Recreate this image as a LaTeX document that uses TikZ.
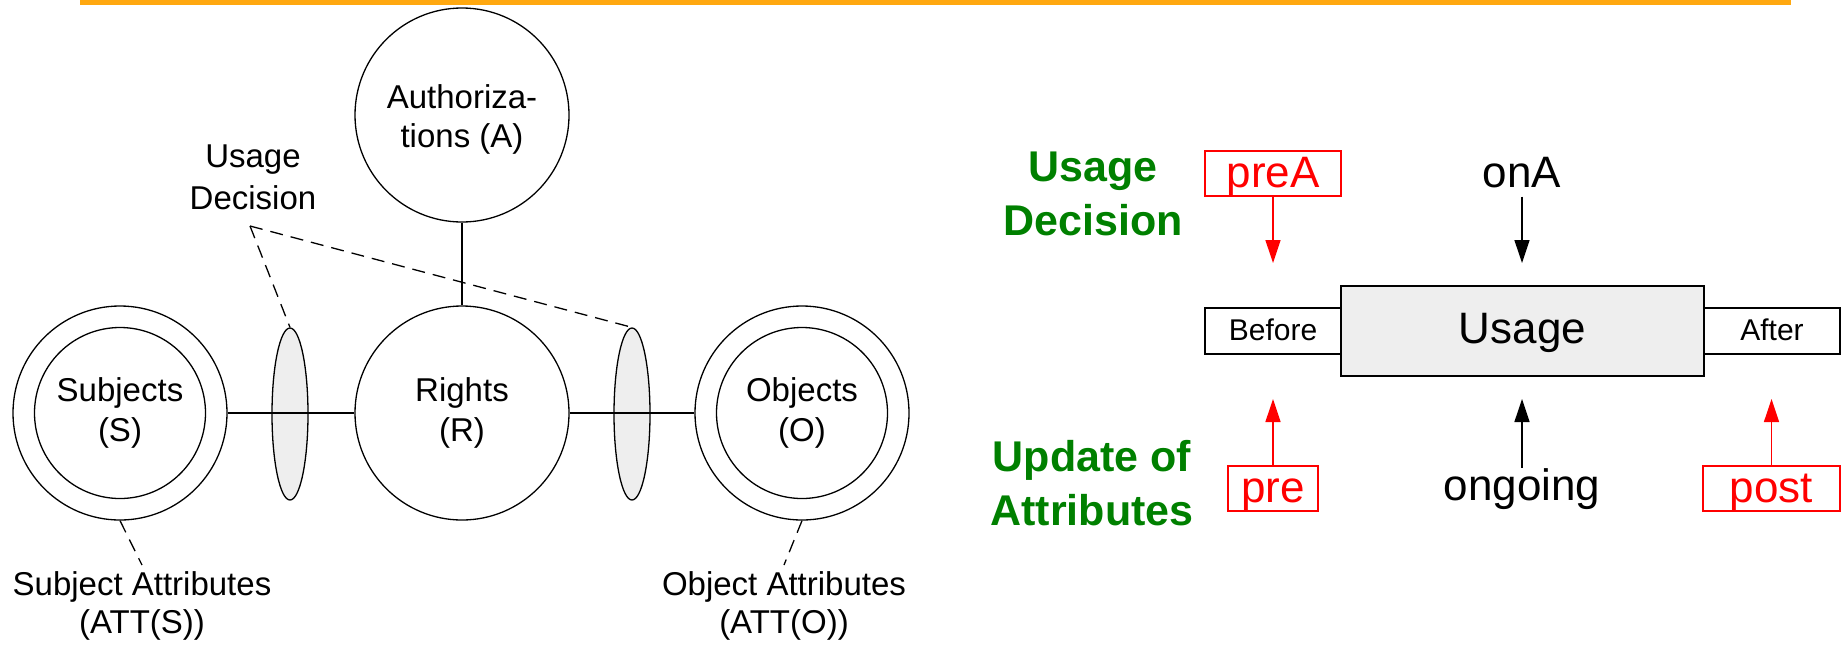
\documentclass[tikz,border=0pt]{standalone}
\usepackage{fontspec}
\setmainfont{Liberation Sans}
\usetikzlibrary{arrows.meta,shapes.geometric}
\definecolor{barorange}{HTML}{FFA810}
\definecolor{dgreen}{HTML}{008000}
\definecolor{lgray}{HTML}{EEEEEE}
\begin{document}
\begin{tikzpicture}[x=1pt,y=-1pt,
  circ/.style={circle, draw, line width=1.3pt, minimum size=214pt, inner sep=0pt},
  incirc/.style={circle, draw, line width=1.3pt, minimum size=171pt, inner sep=0pt},
  lbl/.style={font=\fontsize{33}{39}\selectfont, align=center, inner sep=0pt},
  lens/.style={ellipse, draw, line width=1.3pt, fill=lgray, minimum width=36pt, minimum height=172pt, inner sep=0pt},
  conn/.style={line width=1.3pt},
  dashline/.style={line width=1.3pt, dash pattern=on 13pt off 8pt},
  grn/.style={font=\fontsize{43}{54}\selectfont\bfseries, text=dgreen, align=center, inner sep=0pt},
  blackbox/.style={draw, line width=1.8pt, inner sep=0pt},
  redbox/.style={draw=red, line width=1.8pt, text=red, inner sep=0pt, font=\fontsize{44}{52}\selectfont, text height=33pt, text depth=6pt, minimum height=45pt},
  big/.style={font=\fontsize{44}{52}\selectfont, inner sep=0pt},
  arr/.style={-{Triangle[length=23pt,width=15pt]}, line width=1.5pt},
  redarr/.style={arr, draw=red, fill=red}
]
\useasboundingbox (0,0) rectangle (1843,648);
% top bar
\fill[barorange] (80,0) rectangle (1791,4.5);

% left diagram
\node[circ] (A) at (462,115) {};
\node[lbl] (Atext) at (462,119) {Authoriza-\\tions (A)};
\node[circ] (Souter) at (120,413) {};
\node[incirc, lbl, font=\fontsize{33}{40}\selectfont] (S) at (120,413) {Subjects\\(S)};
\node[circ, lbl, font=\fontsize{33}{40}\selectfont] (R) at (462,413) {Rights\\(R)};
\node[circ] (Oouter) at (802,413) {};
\node[incirc, lbl, font=\fontsize{33}{40}\selectfont] (O) at (802,413) {Objects\\(O)};
\node[lens] (E1) at (290,414) {};
\node[lens] (E2) at (632,414) {};

\draw[conn] (Souter.east) -- (R.west);
\draw[conn] (R.east) -- (Oouter.west);
\draw[conn] (A.south) -- (R.north);

\node[lbl, font=\fontsize{33}{42}\selectfont] (UD) at (253,177) {Usage\\Decision};
\coordinate (udp) at (250,226);
\draw[dashline] (udp) -- (E1.north);
\draw[dashline] (udp) -- (E2.north);

\node[lbl, font=\fontsize{33}{38}\selectfont] (SA) at (142,605.5) {Subject Attributes\\(ATT(S))};
\node[lbl, font=\fontsize{33}{38}\selectfont] (OA) at (784,605.5) {Object Attributes\\(ATT(O))};
\coordinate (saend) at (142,565);
\coordinate (oaend) at (784,565);
\draw[dashline] (Souter.south) -- (saend);
\draw[dashline] (Oouter.south) -- (oaend);

% right diagram
\node[grn] (UDg) at (1093,193.5) {Usage\\Decision};
\node[grn] (UAg) at (1092,483.5) {Update of\\Attributes};

\node[blackbox, minimum width=136pt, minimum height=46pt, font=\fontsize{30}{36}\selectfont, text height=21.5pt, text depth=3.5pt] (before) at (1273,331) {Before};
\node[blackbox, minimum width=136pt, minimum height=46pt, font=\fontsize{30}{36}\selectfont, text height=21.5pt, text depth=3.5pt] (after) at (1772,331) {After};
\node[blackbox, line width=2.2pt, fill=lgray, minimum width=363pt, minimum height=90pt, font=\fontsize{44}{52}\selectfont, text height=31.5pt, text depth=7pt] (usage) at (1522.5,331) {Usage};

\node[redbox, minimum width=136pt] (preA) at (1273,173.5) {preA};
\node[big, anchor=base] (onA) at (1522,187) {onA};
\node[redbox, minimum width=90pt] (pre) at (1273,488.5) {pre};
\node[big, anchor=base] (ongoing) at (1522,500) {ongoing};
\node[redbox, minimum width=137pt] (post) at (1771.5,488.5) {post};

\coordinate (preAend) at (1273,263);
\coordinate (onAend) at (1522,263);
\coordinate (preend) at (1273,399);
\coordinate (ongoingend) at (1522,399);
\coordinate (postend) at (1771.5,399);

\draw[redarr] (preA.south) -- (preAend);
\draw[arr, shorten <=9pt] (onA.south) -- (onAend);
\draw[redarr] (pre.north) -- (preend);
\draw[arr] (ongoing.north) -- (ongoingend);
\draw[redarr] (post.north) -- (postend);
\end{tikzpicture}
\end{document}
